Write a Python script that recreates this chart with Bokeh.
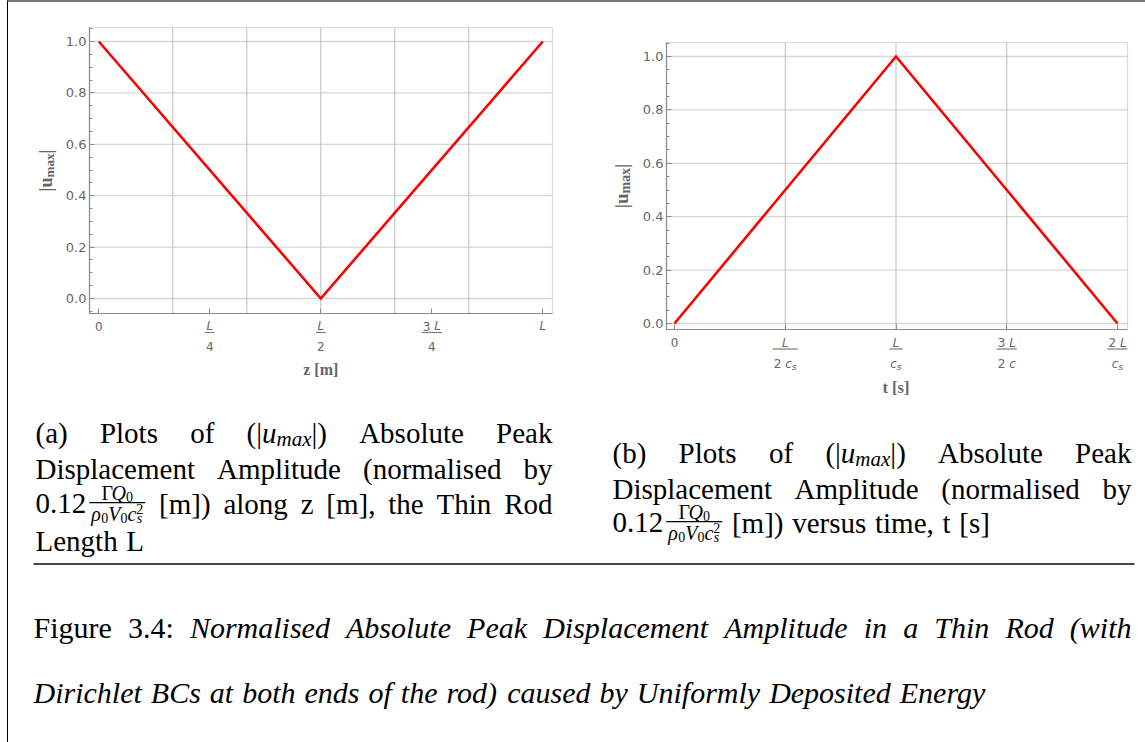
import math
from bokeh.plotting import figure
from bokeh.layouts import column, row
from bokeh.models import (Label, BoxAnnotation, FixedTicker, SingleIntervalTicker, Range1d,
                          PrintfTickFormatter, LinearAxis)
from bokeh.embed import file_html
from bokeh.resources import INLINE

# ---------------- data ----------------
# (a) peak amplitude along the rod, z in units of L
z_over_L = [0.0, 0.5, 1.0]
u_max_z = [1.0, 0.0, 1.0]
# (b) peak amplitude in time, t in units of L / c_s
t_over_T = [0.0, 1.0, 2.0]
u_max_t = [0.0, 1.0, 0.0]

u_ticks = [0.0, 0.2, 0.4, 0.6, 0.8, 1.0]
z_ticks = [0.0, 0.25, 0.5, 0.75, 1.0]
z_tick_num = ["0", "L", "L", "3 L", "L"]
z_tick_den = ["", "4", "2", "4", ""]
z_gridlines = [1 / 6, 2 / 6, 3 / 6, 4 / 6, 5 / 6]
t_ticks = [0.0, 0.5, 1.0, 1.5, 2.0]
t_tick_num = ["0", "L", "L", "3 L", "2 L"]
t_tick_den = ["", "2 c_s", "c_s", "2 c", "c_s"]
t_gridlines = [0.5, 1.0, 1.5]

GRAY_TXT = "#666666"
FRAME = "#8c8c8c"
SANS = "DejaVu Sans"
SERIF = "Liberation Serif"

SANS_W = {" ": 0.318, "L": 0.557, "c": 0.55, "s": 0.521, ".": 0.318}
BOLD_SERIF_W = {"|": 0.22, "u": 0.556, "m": 0.833, "a": 0.5, "x": 0.5, " ": 0.25}


def sans_width(text, size):
    return sum(0.636 if ch.isdigit() else SANS_W.get(ch, 0.6) for ch in text) * size


def tick_runs(s, size):
    """Split a tick string such as '2 c_s' into styled pieces."""
    runs = []
    for i, tok in enumerate(s.split(" ")):
        if i > 0:
            runs.append((" ", False, size, 0))
        if "_" in tok:
            base, sub = tok.split("_")
            runs.append((base, True, size, 0))
            runs.append((sub, True, size * 0.78, -3))
        elif tok.isdigit():
            runs.append((tok, False, size, 0))
        else:
            runs.append((tok, True, size, 0))
    return runs


class Panel:
    """A figure whose frame fills its canvas; the plot box sits inside it.

    Pixel geometry is given in page pixels: where data 0 lands, pixels per
    unit, the canvas rectangle and the plot box rectangle."""

    def __init__(self, x0_px, ppx, y0_px, ppy, canvas, box):
        self.x0_px, self.ppx, self.y0_px, self.ppy = x0_px, ppx, y0_px, ppy
        cl, ct, cr, cb = canvas
        bl, bt, br, bb = box
        self.width, self.height = cr - cl, cb - ct
        self.xr = (self.dx(cl), self.dx(cr))
        self.yr = (self.dy(cb), self.dy(ct))
        self.bx = (self.dx(bl), self.dx(br))
        self.by = (self.dy(bb), self.dy(bt))
        self.box_bottom_px = bb
        self.box_left_px = bl

    def dx(self, px):
        return (px - self.x0_px) / self.ppx

    def dy(self, py):
        return (self.y0_px - py) / self.ppy

    def below_box(self, px):
        return self.dy(self.box_bottom_px + px)

    def left_of_box(self, px):
        return self.dx(self.box_left_px - px)


def put_runs(p, x, y, runs):
    total = sum(sans_width(t, s) for t, _, s, _ in runs)
    acc = -total / 2
    for text, italic, size, dy in runs:
        if text.strip():
            p.add_layout(Label(x=x, y=y, y_offset=dy, x_offset=acc, text=text,
                               text_align="left", text_baseline="middle", text_font=SANS,
                               text_font_style="italic" if italic else "normal",
                               text_font_size=f"{size:.1f}px", text_color=GRAY_TXT))
        acc += sans_width(text, size)
    return total


def fraction_ticks(p, g, ticks, nums, dens, px_num, px_bar, px_den, size=12):
    for x, num, den in zip(ticks, nums, dens):
        w1 = put_runs(p, x, g.below_box(px_num), tick_runs(num, size))
        if den:
            w2 = put_runs(p, x, g.below_box(px_den), tick_runs(den, size))
            hw = (max(w1, w2) + 2) / 2 / g.ppx
            p.add_layout(BoxAnnotation(left=x - hw, right=x + hw,
                                       bottom=g.below_box(px_bar + 0.6), top=g.below_box(px_bar - 0.6),
                                       fill_color="#7a7a7a", fill_alpha=1.0, line_color=None,
                                       line_alpha=0))


def y_title(p, g, px_left, big, small):
    runs = [("|u", big, 0), ("max", small, 4), ("|", big, 0)]
    widths = [sum(BOLD_SERIF_W.get(c, 0.55) for c in t) * s for t, s, _ in runs]
    acc = -sum(widths) / 2
    yc = (g.by[0] + g.by[1]) / 2
    for (text, size, shift), w in zip(runs, widths):
        p.add_layout(Label(x=g.left_of_box(px_left), y=yc, angle=math.pi / 2,
                           x_offset=shift, y_offset=acc, text=text, text_align="left",
                           text_baseline="middle", text_font=SERIF, text_font_style="bold",
                           text_font_size=f"{size}px", text_color=GRAY_TXT))
        acc += w


def base_plot(g, x_ticks, gridx):
    p = figure(width=g.width, height=g.height, x_range=Range1d(*g.xr), y_range=Range1d(*g.yr),
               toolbar_location=None, output_backend="svg", min_border=0,
               x_axis_location=None, y_axis_location=None)
    p.background_fill_color = "white"
    p.border_fill_color = "white"
    p.outline_line_color = None
    p.grid.visible = False

    # grid lines, limited to the plot box
    p.segment(x0=[g.bx[0]] * len(u_ticks), x1=[g.bx[1]] * len(u_ticks), y0=u_ticks, y1=u_ticks,
              line_color="#d6d6d6", line_width=1.3)
    p.segment(x0=gridx, x1=gridx, y0=[g.by[0]] * len(gridx), y1=[g.by[1]] * len(gridx),
              line_color="#bdbdbd", line_width=1)

    xax = LinearAxis(fixed_location=g.by[0], bounds=g.bx, ticker=FixedTicker(ticks=x_ticks))
    xax.major_label_text_color = None
    xax.minor_tick_line_color = None
    yax = LinearAxis(fixed_location=g.bx[0], bounds=g.by,
                     ticker=SingleIntervalTicker(interval=0.2, num_minor_ticks=4),
                     formatter=PrintfTickFormatter(format="%.1f"))
    yax.major_label_text_font = SANS
    yax.major_label_text_font_size = "13px"
    yax.major_label_text_color = GRAY_TXT
    yax.major_label_standoff = 3
    for ax in (xax, yax):
        ax.axis_line_color = FRAME
        ax.axis_line_width = 1.2
        ax.major_tick_line_color = FRAME
        ax.major_tick_in = 5
        ax.major_tick_out = 0
        ax.minor_tick_in = 3
        ax.minor_tick_out = 0
    yax.minor_tick_line_color = FRAME
    p.add_layout(xax, "below")
    p.add_layout(yax, "left")

    # frame around the plot box
    p.add_layout(BoxAnnotation(left=g.bx[0], right=g.bx[1], bottom=g.by[0], top=g.by[1],
                               fill_alpha=0, line_color=FRAME, line_width=1.2))
    return p


# ---------------- (a) along the rod ----------------
ga = Panel(x0_px=98.3, ppx=444, y0_px=298, ppy=257,
           canvas=(8, 2, 575, 400), box=(89, 27, 552, 313))
pa = base_plot(ga, z_ticks, z_gridlines)
pa.line(z_over_L, u_max_z, line_color="#ff0000", line_width=2.6, line_join="miter")
fraction_ticks(pa, ga, z_ticks, z_tick_num, z_tick_den, 12.5, 19, 33)
y_title(pa, ga, 44, 18, 13)
pa.add_layout(Label(x=0.5, y=ga.below_box(56), text="z [m]",
                    text_align="center", text_baseline="middle", text_font=SERIF,
                    text_font_style="bold", text_font_size="16px", text_color=GRAY_TXT))

# ---------------- (b) in time ----------------
gb = Panel(x0_px=674, ppx=221.5, y0_px=323, ppy=267,
           canvas=(575, 2, 1145, 400), box=(666, 42, 1127, 329))
pb = base_plot(gb, t_ticks, t_gridlines)
pb.line(t_over_T, u_max_t, line_color="#ff0000", line_width=2.6, line_join="miter")
fraction_ticks(pb, gb, t_ticks, t_tick_num, t_tick_den, 13, 19.5, 34)
y_title(pb, gb, 45, 19, 14)
pb.add_layout(Label(x=1.0, y=gb.below_box(58), text="t [s]",
                    text_align="center", text_baseline="middle", text_font=SERIF,
                    text_font_style="bold", text_font_size="16.5px", text_color=GRAY_TXT))

# ---------------- captions ----------------
pc = figure(width=1137, height=342, x_range=Range1d(8, 1145), y_range=Range1d(742, 400),
            toolbar_location=None, output_backend="svg", min_border=0)
pc.axis.visible = False
pc.grid.visible = False
pc.outline_line_color = None
pc.background_fill_color = "white"
pc.border_fill_color = "white"

# approximate advance widths (em) of the serif face
ROMAN_W = {" ": .25, "(": .333, ")": .333, "[": .333, "]": .333, "|": .2, ",": .25, ".": .25,
           ":": .278, "A": .722, "B": .667, "C": .667, "D": .722, "E": .611, "F": .556,
           "L": .611, "N": .722, "P": .556, "R": .667, "T": .611, "U": .722, "V": .722,
           "a": .444, "b": .5, "c": .444, "d": .5, "e": .444, "f": .333, "g": .5, "h": .5,
           "i": .278, "k": .5, "l": .278, "m": .778, "n": .5, "o": .5, "p": .5, "r": .333,
           "s": .389, "t": .278, "u": .5, "v": .5, "w": .722, "x": .5, "y": .5, "z": .444}
ITALIC_W = {" ": .25, "(": .333, ")": .333, "A": .611, "B": .611, "C": .667, "D": .722,
            "E": .611, "N": .667, "P": .611, "R": .611, "T": .556, "U": .722, "V": .611,
            "Q": .722, "a": .5, "b": .5, "c": .444, "d": .5, "e": .444, "f": .278, "g": .5,
            "h": .5, "i": .278, "k": .444, "l": .278, "m": .722, "n": .5, "o": .5, "p": .5,
            "r": .389, "s": .389, "t": .278, "u": .5, "w": .667, "x": .444, "y": .444, "z": .389,
            "ρ": .5}


def text_width(text, size, style):
    table = ITALIC_W if style == "italic" else ROMAN_W
    return sum(0.5 if ch.isdigit() else table.get(ch, 0.5) for ch in text) * size


def word(x, y, text, size, style="normal", dy=0):
    pc.add_layout(Label(x=x, y=y + dy, text=text, text_align="left", text_baseline="middle",
                        text_font=SERIF, text_font_style=style, text_font_size=f"{size}px",
                        text_color="black"))


FRAC_W = 58


def draw_fraction(x, y):
    fs, ss = 20, 14
    num = [("Γ", fs, "normal", 0), ("Q", fs, "italic", 0), ("0", ss, "normal", 4)]
    den = [("ρ", fs, "italic", 0), ("0", ss, "normal", 4), ("V", fs, "italic", 0),
           ("0", ss, "normal", 4), ("c", fs, "italic", 0)]
    wn = sum(text_width(t, s, st) for t, s, st, _ in num)
    wd = sum(text_width(t, s, st) for t, s, st, _ in den) + text_width("2", ss, "normal")
    xn = x + (FRAC_W - wn) / 2
    for t, s, st, dy in num:
        word(xn, y - 10, t, s, st, dy)
        xn += text_width(t, s, st)
    pc.add_layout(BoxAnnotation(left=x + 1, right=x + FRAC_W - 1, bottom=y - 0.4, top=y + 0.8,
                                fill_color="black", fill_alpha=1.0, line_color=None))
    xd = x + (FRAC_W - wd) / 2
    for t, s, st, dy in den:
        word(xd, y + 11, t, s, st, dy)
        xd += text_width(t, s, st)
    word(xd, y + 6, "2", ss)
    word(xd + 0.5, y + 16, "s", ss, "italic")


def draw_item(item, x, y):
    for text, size, style, dy in item:
        word(x, y, text, size, style, dy)
        x += text_width(text, size, style)


def item_width(item):
    return sum(text_width(t, s, st) for t, s, st, _ in item)


def items_from(line, size, style):
    return [[(w, size, style, 0)] if isinstance(w, str) else w for w in line]


def set_line(line, left, right, y, size, style="normal", justify=True):
    items = items_from(line, size, style)
    widths = [item_width(it) for it in items]
    if justify and len(items) > 1:
        gap = (right - left - sum(widths)) / (len(items) - 1)
    else:
        gap = size * 0.3
    x = left
    for it, w in zip(items, widths):
        draw_item(it, x, y)
        x += w + gap


def set_amount_line(rest, left, right, y, size, justify):
    head_w = text_width("0.12", size, "normal")
    items = items_from(rest, size, "normal")
    widths = [item_width(it) for it in items]
    total = head_w + 2 + FRAC_W + sum(widths)
    gap = (right - left - total) / len(items) if justify else size * 0.3
    word(left, y, "0.12", size)
    draw_fraction(left + head_w + 2, y - 1)
    x = left + head_w + 2 + FRAC_W + gap
    for it, w in zip(items, widths):
        draw_item(it, x, y)
        x += w + gap


FS_SUB, FS_FIG = 29, 30


def umax(size):
    return [("(|", size, "normal", 0), ("u", size, "italic", 0),
            ("max", 21, "italic", 6), ("|)", size, "normal", 0)]


# (a)
A_L, A_R = 35, 552
set_line(["(a)", "Plots", "of", umax(FS_SUB), "Absolute", "Peak"], A_L, A_R, 432, FS_SUB)
set_line(["Displacement", "Amplitude", "(normalised", "by"], A_L, A_R, 468, FS_SUB)
set_amount_line(["[m])", "along", "z", "[m],", "the", "Thin", "Rod"], A_L, A_R, 503, FS_SUB, True)
set_line(["Length", "L"], A_L, A_R, 540, FS_SUB, justify=False)

# (b)
B_L, B_R = 612, 1131
set_line(["(b)", "Plots", "of", umax(FS_SUB), "Absolute", "Peak"], B_L, B_R, 452, FS_SUB)
set_line(["Displacement", "Amplitude", "(normalised", "by"], B_L, B_R, 488, FS_SUB)
set_amount_line(["[m])", "versus", "time,", "t", "[s]"], B_L, B_R, 522, FS_SUB, False)

# rule between sub-captions and figure caption
pc.add_layout(BoxAnnotation(left=33, right=1134, bottom=564.5, top=562.5,
                            fill_color="#444444", fill_alpha=1.0, line_color=None))

# figure caption
cap1 = [[("Figure", FS_FIG, "normal", 0)], [("3.4:", FS_FIG, "normal", 0)]]
cap1 += items_from(["Normalised", "Absolute", "Peak", "Displacement", "Amplitude", "in", "a",
                    "Thin", "Rod", "(with"], FS_FIG, "italic")
set_line(cap1, 33, 1131, 627, FS_FIG)
set_line(["Dirichlet", "BCs", "at", "both", "ends", "of", "the", "rod)", "caused", "by",
          "Uniformly", "Deposited", "Energy"], 33, 1131, 692, FS_FIG, "italic", justify=False)

layout = column(row(pa, pb), pc,
                styles={"margin-left": "7px", "border-left": "1px solid #000000",
                        "border-top": "2px solid #777777"})

open("out.html", "w").write(file_html(layout, INLINE))
